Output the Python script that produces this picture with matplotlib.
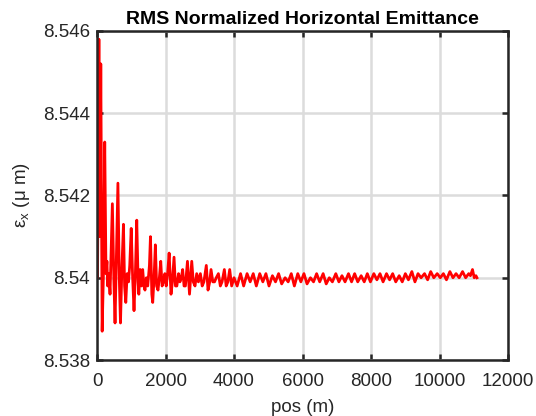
import matplotlib
matplotlib.use('Agg')
import matplotlib.pyplot as plt

# position along the line (m) and emittance (um)
pos = [0, 15, 55, 85, 110, 150, 190, 225, 262, 290, 310, 345, 380, 448, 490, 526,
       560, 610, 650, 685, 725, 772, 805, 840, 880, 920, 955, 998, 1040, 1080,
       1120, 1160, 1200, 1220, 1260, 1295, 1333, 1370, 1400, 1440, 1480, 1530,
       1560, 1600, 1626, 1665, 1703, 1740, 1780, 1820, 1860, 1900, 1940, 1980,
       2020, 2060, 2105, 2160, 2200, 2248, 2290, 2330, 2380, 2420, 2460, 2500,
       2540, 2580, 2640, 2700, 2765, 2810, 2860, 2910, 2960, 3017, 3070, 3120,
       3190, 3240, 3290, 3328, 3380, 3430, 3480, 3543, 3600, 3650, 3717, 3770,
       3820, 3873, 3930,
       4000, 4090, 4190, 4280, 4380, 4470, 4560, 4650, 4750, 4840, 4930, 5020,
       5120, 5210, 5300, 5390, 5490, 5580, 5670, 5760, 5860, 5950, 6040, 6130,
       6230, 6320, 6410, 6500, 6600, 6690, 6780, 6870, 6970, 7060, 7150, 7240,
       7340, 7430, 7520, 7610, 7710, 7800, 7890, 7980, 8080, 8170, 8260, 8350,
       8450, 8540, 8630, 8720, 8820, 8910, 9000, 9090, 9190, 9280, 9370, 9460,
       9560, 9650, 9740, 9830, 9930, 10020, 10110, 10200, 10300, 10390, 10480,
       10570, 10670, 10760, 10850, 10900, 10960, 11010, 11060, 11090]
emit = [8.5404, 8.5400, 8.5458, 8.5410, 8.5452, 8.5387, 8.5402, 8.5433, 8.5401,
        8.5404, 8.5398, 8.5401, 8.5396, 8.5418, 8.5400, 8.5389, 8.5403, 8.5423,
        8.5400, 8.5389, 8.5402, 8.5413, 8.5398, 8.5394, 8.5401, 8.5399, 8.5403,
        8.5412, 8.5400, 8.5392, 8.5401, 8.5414, 8.5399, 8.5396, 8.5402, 8.5398,
        8.5402, 8.5398, 8.5397, 8.5400, 8.5398, 8.5403, 8.5410, 8.5396, 8.5394,
        8.5400, 8.5408, 8.5398, 8.5397, 8.5400, 8.5404, 8.5398, 8.5399, 8.5401,
        8.5398, 8.5401, 8.5406, 8.5396, 8.5399, 8.5405, 8.5398, 8.5398, 8.5401,
        8.5399, 8.5400, 8.5402, 8.5398, 8.5398, 8.5404, 8.5396, 8.5404, 8.5399,
        8.5398, 8.5401, 8.5399, 8.5401, 8.5398, 8.5399, 8.5403, 8.5397, 8.5399,
        8.5402, 8.5399, 8.5399, 8.5400, 8.5401, 8.5398, 8.5399, 8.5402, 8.5398,
        8.5399, 8.5402, 8.5398,
        8.5400, 8.5398, 8.5401, 8.5398, 8.5401, 8.5399, 8.5401, 8.5398, 8.5401,
        8.5399, 8.5401, 8.5398, 8.54005, 8.5399, 8.5401, 8.53985, 8.5400, 8.5399,
        8.5401, 8.5398, 8.5401, 8.5399, 8.5401, 8.53985, 8.5400, 8.5399, 8.5401,
        8.5399, 8.5401, 8.53985, 8.5400, 8.5399, 8.5401, 8.5399, 8.54005, 8.5399,
        8.5401, 8.5399, 8.5401, 8.5399, 8.54005, 8.5399, 8.5401, 8.5399, 8.5401,
        8.53995, 8.5401, 8.5399, 8.5401, 8.53995, 8.5401, 8.5399, 8.54005, 8.5399,
        8.5401, 8.53995, 8.54015, 8.5399, 8.5401, 8.5400, 8.5401, 8.53995, 8.54015,
        8.5400, 8.5401, 8.5400, 8.5401, 8.53995, 8.54015, 8.5400, 8.5401, 8.5400,
        8.54015, 8.5400, 8.5401, 8.54005, 8.5402, 8.5400, 8.54005, 8.5400]

xticks = [0, 2000, 4000, 6000, 8000, 10000, 12000]
yticks = [8.538, 8.540, 8.542, 8.544, 8.546]
ytick_labels = ['8.538', '8.54', '8.542', '8.544', '8.546']

plt.rcParams['font.family'] = ['Liberation Sans', 'DejaVu Sans']
plt.rcParams['mathtext.fontset'] = 'custom'
plt.rcParams['mathtext.rm'] = 'DejaVu Sans'
plt.rcParams['mathtext.default'] = 'regular'
dark = '#262626'

fig = plt.figure(figsize=(5.36, 4.16), dpi=100)
ax = fig.add_axes([0.181, 0.1346, 0.767, 0.7909])

ax.plot(pos, emit, color='red', linewidth=2.0)

ax.set_xlim(0, 12000)
ax.set_ylim(8.538, 8.546)
ax.set_xticks(xticks)
ax.set_xticklabels([str(t) for t in xticks])
ax.set_yticks(yticks)
ax.set_yticklabels(ytick_labels)

ax.grid(True, color='#dcdcdc', linewidth=1.8)
ax.set_axisbelow(True)
for s in ax.spines.values():
    s.set_linewidth(1.8)
    s.set_color(dark)
ax.tick_params(direction='in', length=4, width=1.8, colors=dark,
               labelsize=13.5, top=True, right=True)
ax.tick_params(axis='x', pad=9)
ax.tick_params(axis='y', pad=5)

ax.set_title('RMS Normalized Horizontal Emittance', fontsize=14,
             fontweight='bold', pad=5)
ax.set_xlabel('pos (m)', fontsize=13.5, color=dark, labelpad=7)
ax.set_ylabel(r'$\varepsilon_x$ ($\mu$ m)', fontsize=13.5, color=dark, labelpad=8)

fig.savefig('out.png', dpi=100)
